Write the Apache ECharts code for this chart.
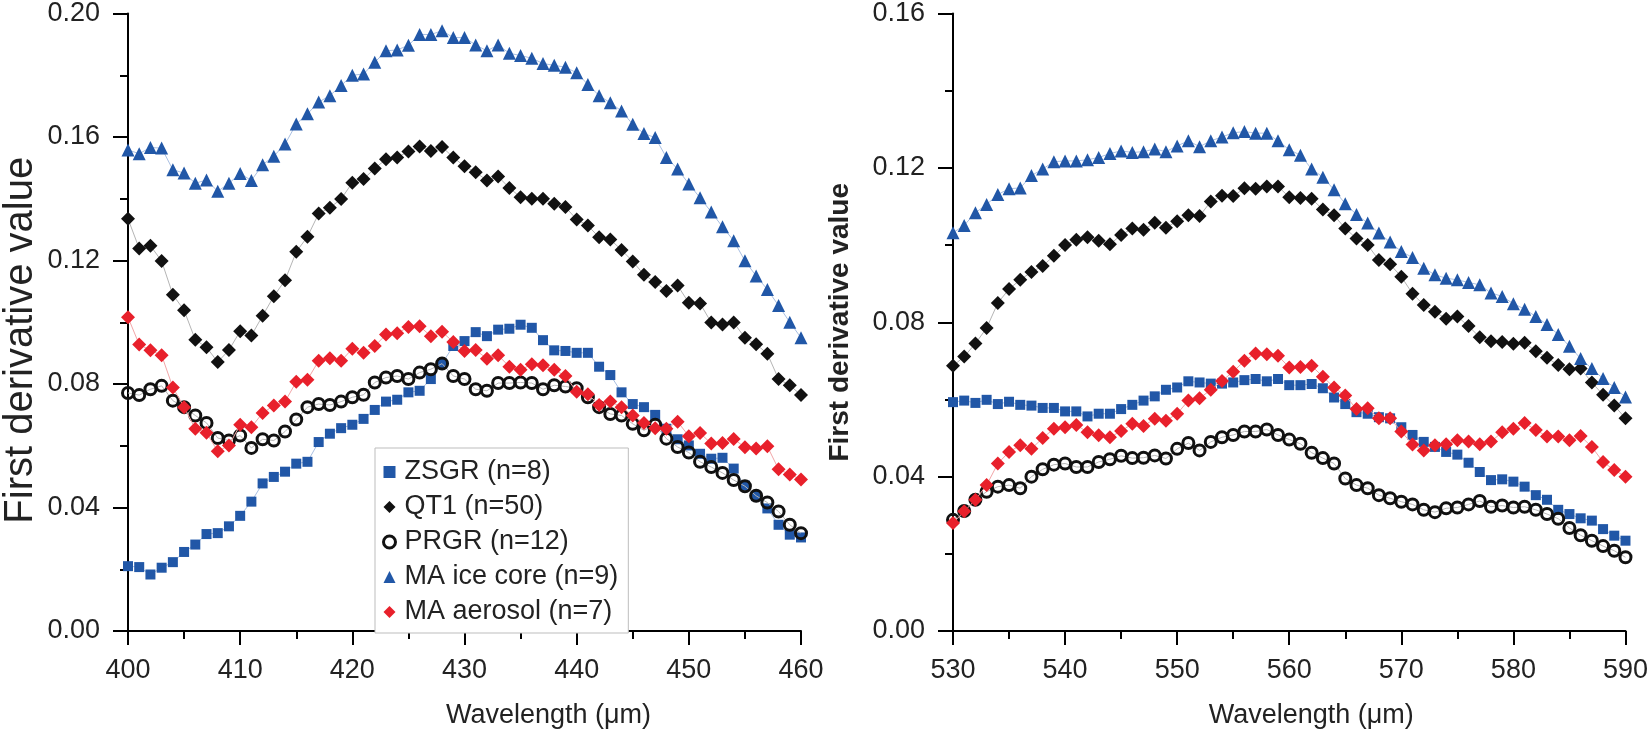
<!DOCTYPE html>
<html lang="en">
<head>
<meta charset="UTF-8">
<title>First derivative spectra</title>
<script src="https://cdn.jsdelivr.net/npm/echarts@6/dist/echarts.min.js"></script>
<style>
  html, body { margin: 0; padding: 0; background: #fff; }
  #main { width: 1651px; height: 734px; }
</style>
</head>
<body>
<div id="main"></div>
<script>
// wavelengths (nm), one point per nm
var wlLeft = [400,401,402,403,404,405,406,407,408,409,410,411,412,413,414,415,416,417,418,419,420,
  421,422,423,424,425,426,427,428,429,430,431,432,433,434,435,436,437,438,439,440,
  441,442,443,444,445,446,447,448,449,450,451,452,453,454,455,456,457,458,459,460];
var wlRight = [530,531,532,533,534,535,536,537,538,539,540,541,542,543,544,545,546,547,548,549,550,
  551,552,553,554,555,556,557,558,559,560,561,562,563,564,565,566,567,568,569,570,
  571,572,573,574,575,576,577,578,579,580,581,582,583,584,585,586,587,588,589,590];

// left panel, 400-460
var zsgrLeft = [0.0210,0.0207,0.0183,0.0205,0.0223,0.0256,0.0280,0.0314,0.0317,0.0339,0.0373,
  0.0419,0.0478,0.0499,0.0516,0.0542,0.0548,0.0612,0.0639,0.0657,0.0668,
  0.0687,0.0716,0.0743,0.0749,0.0773,0.0778,0.0816,0.0866,0.0923,0.0939,
  0.0968,0.0955,0.0976,0.0979,0.0992,0.0982,0.0942,0.0909,0.0907,0.0901,
  0.0901,0.0856,0.0829,0.0773,0.0735,0.0725,0.0700,0.0655,0.0621,0.0601,
  0.0574,0.0558,0.0561,0.0526,0.0471,0.0437,0.0397,0.0344,0.0312,0.0303];
var qt1Left = [0.1335,0.1239,0.1248,0.1198,0.1089,0.1039,0.0943,0.0919,0.0871,0.0910,0.0971,
  0.0957,0.1021,0.1084,0.1136,0.1228,0.1277,0.1352,0.1371,0.1399,0.1452,
  0.1464,0.1498,0.1528,0.1534,0.1553,0.1569,0.1555,0.1568,0.1534,0.1505,
  0.1486,0.1459,0.1472,0.1435,0.1405,0.1400,0.1400,0.1384,0.1373,0.1333,
  0.1313,0.1275,0.1268,0.1234,0.1197,0.1154,0.1130,0.1101,0.1119,0.1063,
  0.1061,0.0999,0.0993,0.0999,0.0950,0.0929,0.0898,0.0816,0.0796,0.0764];
var prgrLeft = [0.0771,0.0764,0.0783,0.0794,0.0746,0.0725,0.0698,0.0674,0.0625,0.0617,0.0633,
  0.0593,0.0621,0.0617,0.0646,0.0685,0.0725,0.0735,0.0732,0.0743,0.0757,
  0.0765,0.0805,0.0821,0.0826,0.0816,0.0837,0.0848,0.0866,0.0826,0.0816,
  0.0783,0.0778,0.0803,0.0803,0.0805,0.0803,0.0783,0.0796,0.0792,0.0786,
  0.0757,0.0725,0.0703,0.0698,0.0671,0.0650,0.0668,0.0623,0.0596,0.0578,
  0.0548,0.0531,0.0512,0.0489,0.0469,0.0438,0.0416,0.0387,0.0344,0.0317];
var iceLeft = [0.1558,0.1546,0.1566,0.1564,0.1494,0.1483,0.1450,0.1461,0.1424,0.1450,0.1482,
  0.1459,0.1510,0.1538,0.1577,0.1642,0.1675,0.1713,0.1734,0.1767,0.1800,
  0.1804,0.1842,0.1879,0.1882,0.1897,0.1932,0.1932,0.1944,0.1922,0.1922,
  0.1898,0.1879,0.1898,0.1871,0.1864,0.1855,0.1838,0.1832,0.1826,0.1808,
  0.1770,0.1734,0.1711,0.1684,0.1641,0.1611,0.1598,0.1534,0.1496,0.1448,
  0.1403,0.1357,0.1309,0.1264,0.1199,0.1150,0.1106,0.1054,0.1000,0.0950];
var aerLeft = [0.1016,0.0928,0.0909,0.0893,0.0789,0.0725,0.0655,0.0642,0.0582,0.0601,0.0668,
  0.0660,0.0706,0.0730,0.0743,0.0807,0.0814,0.0875,0.0883,0.0875,0.0914,
  0.0901,0.0923,0.0960,0.0964,0.0985,0.0987,0.0955,0.0969,0.0936,0.0907,
  0.0910,0.0882,0.0893,0.0856,0.0846,0.0864,0.0861,0.0846,0.0826,0.0775,
  0.0767,0.0732,0.0743,0.0725,0.0698,0.0674,0.0657,0.0655,0.0678,0.0631,
  0.0641,0.0607,0.0609,0.0622,0.0595,0.0591,0.0598,0.0524,0.0507,0.0491];

// right panel, 530-590
var zsgrRight = [0.0593,0.0597,0.0591,0.0599,0.0588,0.0594,0.0586,0.0584,0.0578,0.0578,0.0569,
  0.0569,0.0556,0.0563,0.0563,0.0575,0.0586,0.0597,0.0608,0.0625,0.0631,
  0.0647,0.0644,0.0641,0.0641,0.0644,0.0650,0.0653,0.0647,0.0653,0.0637,
  0.0637,0.0640,0.0629,0.0605,0.0588,0.0567,0.0563,0.0554,0.0551,0.0528,
  0.0508,0.0490,0.0477,0.0464,0.0457,0.0436,0.0412,0.0391,0.0393,0.0387,
  0.0374,0.0352,0.0340,0.0314,0.0303,0.0292,0.0286,0.0264,0.0247,0.0234];
var qt1Right = [0.0687,0.0711,0.0745,0.0785,0.0850,0.0886,0.0910,0.0930,0.0946,0.0972,0.1000,
  0.1014,0.1020,0.1011,0.1002,0.1026,0.1043,0.1040,0.1058,0.1045,0.1062,
  0.1077,0.1075,0.1113,0.1128,0.1127,0.1147,0.1146,0.1152,0.1152,0.1124,
  0.1122,0.1120,0.1092,0.1077,0.1043,0.1017,0.1000,0.0961,0.0950,0.0918,
  0.0874,0.0845,0.0827,0.0809,0.0815,0.0790,0.0761,0.0751,0.0749,0.0744,
  0.0747,0.0725,0.0708,0.0689,0.0678,0.0680,0.0644,0.0612,0.0584,0.0551];
var prgrRight = [0.0288,0.0311,0.0340,0.0361,0.0374,0.0378,0.0370,0.0400,0.0419,0.0431,0.0434,
  0.0425,0.0425,0.0438,0.0445,0.0454,0.0448,0.0449,0.0455,0.0447,0.0472,
  0.0487,0.0468,0.0490,0.0502,0.0508,0.0517,0.0517,0.0522,0.0508,0.0496,
  0.0485,0.0462,0.0448,0.0434,0.0395,0.0378,0.0370,0.0352,0.0344,0.0335,
  0.0328,0.0314,0.0308,0.0318,0.0320,0.0328,0.0337,0.0322,0.0325,0.0320,
  0.0322,0.0314,0.0303,0.0291,0.0267,0.0248,0.0234,0.0220,0.0208,0.0191];
var iceRight = [0.1032,0.1051,0.1084,0.1105,0.1131,0.1146,0.1148,0.1180,0.1197,0.1216,0.1218,
  0.1218,0.1221,0.1227,0.1237,0.1244,0.1240,0.1242,0.1249,0.1242,0.1257,
  0.1270,0.1255,0.1270,0.1280,0.1291,0.1294,0.1290,0.1290,0.1270,0.1247,
  0.1233,0.1197,0.1176,0.1143,0.1107,0.1079,0.1057,0.1031,0.1008,0.0983,
  0.0968,0.0940,0.0923,0.0914,0.0910,0.0903,0.0897,0.0876,0.0867,0.0848,
  0.0834,0.0815,0.0794,0.0768,0.0738,0.0706,0.0680,0.0654,0.0631,0.0606];
var aerRight = [0.0280,0.0310,0.0340,0.0378,0.0434,0.0464,0.0481,0.0472,0.0500,0.0524,0.0528,
  0.0534,0.0515,0.0507,0.0502,0.0518,0.0537,0.0531,0.0550,0.0545,0.0563,
  0.0597,0.0603,0.0625,0.0648,0.0672,0.0700,0.0719,0.0717,0.0713,0.0683,
  0.0684,0.0687,0.0659,0.0631,0.0610,0.0575,0.0577,0.0551,0.0551,0.0517,
  0.0483,0.0468,0.0481,0.0484,0.0494,0.0491,0.0484,0.0491,0.0515,0.0524,
  0.0539,0.0521,0.0504,0.0504,0.0494,0.0505,0.0477,0.0438,0.0417,0.0400];

var seriesNames = ['ZSGR (n=8)', 'QT1 (n=50)', 'PRGR (n=12)', 'MA ice core (n=9)', 'MA aerosol (n=7)'];

var FONT = '"Liberation Sans", Arial, Helvetica, sans-serif';
var BLUE = '#2157a7', BLACK = '#111111', RED = '#e8202b';

function pairs(xs, ys) {
    var out = [];
    for (var i = 0; i < xs.length; i++) out.push([xs[i], ys[i]]);
    return out;
}

// marker look for each of the five groups
var looks = [
    { symbol: 'rect', size: 10, item: { color: BLUE }, line: '#a9bfe2' },
    { symbol: 'diamond', size: 14, item: { color: BLACK }, line: '#b5b5b5' },
    { symbol: 'circle', size: 11, item: { color: 'rgba(0,0,0,0)', borderColor: BLACK, borderWidth: 3 }, line: '#b5b5b5' },
    { symbol: 'triangle', size: 13, item: { color: BLUE }, line: '#a9bfe2' },
    { symbol: 'diamond', size: 14, item: { color: RED }, line: '#f2a6a8' }
];

var leftData = [zsgrLeft, qt1Left, prgrLeft, iceLeft, aerLeft];
var rightData = [zsgrRight, qt1Right, prgrRight, iceRight, aerRight];

var series = [];
function addPanel(idx, xs, sets) {
    for (var k = 0; k < sets.length; k++) {
        series.push({
            name: seriesNames[k],
            type: 'line',
            xAxisIndex: idx,
            yAxisIndex: idx,
            data: pairs(xs, sets[k]),
            symbol: looks[k].symbol,
            symbolSize: looks[k].size,
            showAllSymbol: true,
            itemStyle: looks[k].item,
            lineStyle: { color: looks[k].line, width: 1 },
            z: 2 + k
        });
    }
}
addPanel(0, wlLeft, leftData);
addPanel(1, wlRight, rightData);

// shift: the axis titles sit right of centre in the original
function xAxisCfg(idx, min, max, shift) {
    return {
        type: 'value', gridIndex: idx, min: min, max: max, interval: 10,
        name: 'Wavelength (\u03bcm)', nameLocation: 'middle', nameGap: 71,
        nameTextStyle: { fontFamily: FONT, fontSize: 27, color: '#222', padding: [0, 0, 0, shift * 2] },
        axisLine: { lineStyle: { color: '#000', width: 2 } },
        axisTick: { length: 14, lineStyle: { color: '#000', width: 2 } },
        minorTick: { show: true, splitNumber: 2, length: 8, lineStyle: { color: '#000', width: 2 } },
        axisLabel: { margin: 26, fontFamily: FONT, fontSize: 27, color: '#222' },
        splitLine: { show: false }
    };
}
// drop: moves the rotated title down the axis
function yAxisCfg(idx, max, nameSize, bold, gap, drop) {
    return {
        type: 'value', gridIndex: idx, min: 0, max: max, interval: 0.04,
        name: 'First derivative value', nameLocation: 'middle', nameGap: gap,
        nameTextStyle: { fontFamily: FONT, fontSize: nameSize, color: '#222',
            fontWeight: bold ? 'bold' : 'normal', padding: [0, drop * 2, 0, 0] },
        axisLine: { show: true, lineStyle: { color: '#000', width: 2 } },
        axisTick: { show: true, length: 15, lineStyle: { color: '#000', width: 2 } },
        minorTick: { show: true, splitNumber: 2, length: 8, lineStyle: { color: '#000', width: 2 } },
        axisLabel: { margin: 28, fontFamily: FONT, fontSize: 27, color: '#222',
            formatter: function (v) { return v.toFixed(2); } },
        splitLine: { show: false }
    };
}

var chart = echarts.init(document.getElementById('main'));
chart.setOption({
    animation: false,
    backgroundColor: '#fff',
    grid: [
        { left: 127, top: 12, width: 674, height: 622 },
        { left: 953, top: 12, width: 674, height: 622 }
    ],
    legend: {
        orient: 'vertical',
        left: 375, top: 448,
        padding: [10, 10, 7, 7],
        itemGap: 7,
        itemWidth: 12, itemHeight: 12,
        borderColor: '#bdbdbd', borderWidth: 1,
        backgroundColor: '#fff',
        textStyle: { fontFamily: FONT, fontSize: 27, color: '#222', lineHeight: 28, padding: [0, 0, 0, 4] },
        data: [
            { name: seriesNames[0], icon: 'rect', itemStyle: { color: BLUE } },
            { name: seriesNames[1], icon: 'diamond', itemStyle: { color: BLACK } },
            { name: seriesNames[2], icon: 'circle', itemStyle: { color: 'rgba(0,0,0,0)', borderColor: BLACK, borderWidth: 3 } },
            { name: seriesNames[3], icon: 'triangle', itemStyle: { color: BLUE } },
            { name: seriesNames[4], icon: 'diamond', itemStyle: { color: RED } }
        ]
    },
    xAxis: [xAxisCfg(0, 400, 460, 84), xAxisCfg(1, 530, 590, 22)],
    yAxis: [yAxisCfg(0, 0.20, 40, false, 87, 18), yAxisCfg(1, 0.16, 28, true, 99, 0)],
    series: series
});
</script>
</body>
</html>
